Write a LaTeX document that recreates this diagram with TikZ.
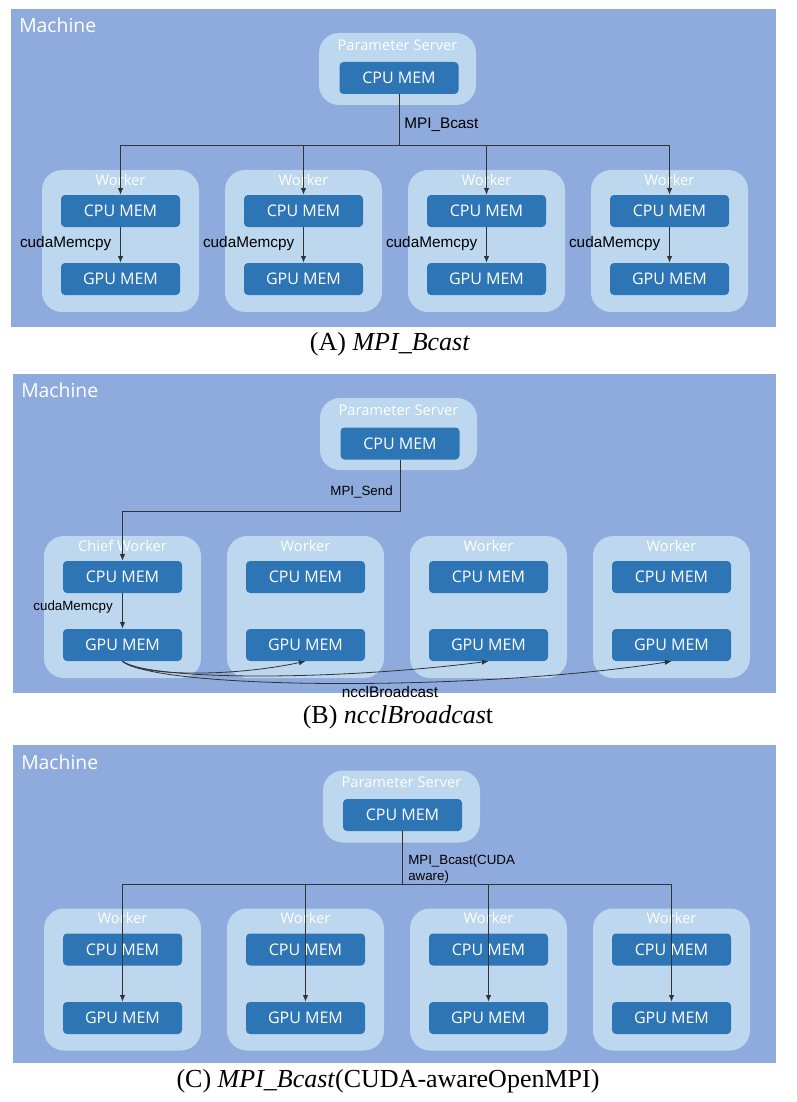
\documentclass[tikz,border=0pt]{standalone}
\usepackage{fontspec}
\setmainfont{Liberation Serif}
\setsansfont{Open Sans}
\newfontfamily\arialf{Liberation Sans}
\usetikzlibrary{arrows.meta}
\definecolor{bgblue}{HTML}{8FAADC}
\definecolor{lightbox}{HTML}{BDD7EE}
\definecolor{darkbox}{HTML}{2E75B6}
\definecolor{linec}{HTML}{333333}
\begin{document}
\begin{tikzpicture}[x=0.75pt,y=-0.75pt,
 group/.style={fill=lightbox, rounded corners=15pt, minimum width=117.75pt, minimum height=106.5pt, inner sep=0pt},
 psgroup/.style={group, minimum height=54pt},
 mem/.style={fill=darkbox, rounded corners=3pt, minimum width=89.25pt, minimum height=24pt, text=white, font=\sffamily\fontsize{12}{14}\selectfont, inner sep=0pt},
 grouplabel/.style={text=white, font=\sffamily\fontsize{11}{13}\selectfont, inner sep=0pt},
 machine/.style={text=white, font=\sffamily\fontsize{14.5}{17}\selectfont, anchor=west, inner sep=0pt},
 lbl/.style={font=\arialf\fontsize{11.5}{13}\selectfont, inner sep=0pt, text=black},
 lbls/.style={font=\arialf\fontsize{10}{12}\selectfont, inner sep=0pt, text=black, align=left},
 conn/.style={draw=linec, line width=0.6pt},
 arr/.style={conn, -{Latex[length=5pt,width=4pt]}},
 capt/.style={font=\fontsize{19.5}{22}\selectfont, inner sep=0pt}
]
\useasboundingbox (0,0) rectangle (796,1102);
\fill[white] (0,0) rectangle (796,1102);

% ================= Panel A =================
\fill[bgblue] (11,9) rectangle (776,327);
\node[machine] (machA) at (19,25) {Machine};
\node[psgroup] (psA) at (397.5,69) {};
\node[grouplabel] (psAl) at (397.5,45) {Parameter Server};
\node[mem] (psAc) at (399,78) {CPU MEM};
\foreach \i/\cx in {1/120.5,2/303.5,3/486.5,4/669.5}{
  \node[group] (wA\i) at (\cx,241) {};
  \node[grouplabel] (wAl\i) at (\cx,180) {Worker};
  \node[mem] (cA\i) at (\cx,211) {CPU MEM};
  \node[mem] (gA\i) at (\cx,279) {GPU MEM};
  \node[lbl, anchor=east] (kA\i) at (\cx-9,244) {cudaMemcpy};
  \draw[arr] (cA\i.south) -- (gA\i.north);
}
\coordinate (jA) at (psAc.south |- 0,145);
\draw[conn] (psAc.south) -- (jA);
\draw[conn] (cA1.north |- jA) -- (cA4.north |- jA);
\foreach \i in {1,...,4}{
  \draw[arr] (cA\i.north |- jA) -- (cA\i.north);
}
\node[lbl, anchor=west] (mA) at (404,125) {MPI\_Bcast};
\node[capt] (capA) at (390,344) {(A) \textit{MPI\_Bcast}};

% ================= Panel B =================
\fill[bgblue] (13,374) rectangle (776,693);
\node[machine] (machB) at (21,390) {Machine};
\node[psgroup] (psB) at (398.5,434) {};
\node[grouplabel] (psBl) at (398.5,410) {Parameter Server};
\node[mem] (psBc) at (400,443.5) {CPU MEM};
\foreach \i/\cx/\lab in {1/122.5/Chief Worker,2/305.5/Worker,3/488.5/Worker,4/671.5/Worker}{
  \node[group] (wB\i) at (\cx,607) {};
  \node[grouplabel] (wBl\i) at (\cx,546) {\lab};
  \node[mem] (cB\i) at (\cx,577) {CPU MEM};
  \node[mem] (gB\i) at (\cx,645) {GPU MEM};
}
\node[lbls, anchor=east] (kB1) at (113,607) {cudaMemcpy};
\draw[arr] (cB1.south) -- (gB1.north);
\coordinate (jB) at (0,511);
\draw[arr] (psBc.south) |- (cB1.north |- jB) -- (cB1.north);
\node[lbls, anchor=east] (mB) at (393,492) {MPI\_Send};
\draw[arr] (gB1.south) .. controls +(17,15) and +(-75,16) .. (gB2.south);
\draw[arr] (gB1.south) .. controls +(27,19) and +(-158,20) .. (gB3.south);
\draw[arr] (gB1.south) .. controls +(37,29) and +(-190,30) .. (gB4.south);
\node[lbl] (nB) at (390,692) {ncclBroadcast};
\node[capt] (capB) at (398,717) {(B) \textit{ncclBroadcas}t};

% ================= Panel C =================
\fill[bgblue] (13,745) rectangle (776,1063);
\node[machine] (machC) at (21,762) {Machine};
\node[psgroup] (psC) at (401.5,806.5) {};
\node[grouplabel] (psCl) at (401.5,782) {Parameter Server};
\node[mem] (psCc) at (402.5,815) {CPU MEM};
\foreach \i/\cx in {1/122.5,2/305.5,3/488.5,4/671.5}{
  \node[group] (wC\i) at (\cx,979.5) {};
  \node[grouplabel] (wCl\i) at (\cx,918) {Worker};
  \node[mem] (cC\i) at (\cx,949.5) {CPU MEM};
  \node[mem] (gC\i) at (\cx,1018) {GPU MEM};
}
\coordinate (jC) at (psCc.south |- 0,884);
\draw[conn] (psCc.south) -- (jC);
\draw[conn] (gC1.north |- jC) -- (gC4.north |- jC);
\foreach \i in {1,...,4}{
  \draw[arr] (gC\i.north |- jC) -- (gC\i.north);
}
\node[lbls, anchor=north west] (mC) at (408,855) {MPI\_Bcast(CUDA\\aware)};
\node[capt] (capC) at (388,1081) {(C) \textit{MPI\_Bcast}(CUDA-awareOpenMPI)};
\end{tikzpicture}
\end{document}
